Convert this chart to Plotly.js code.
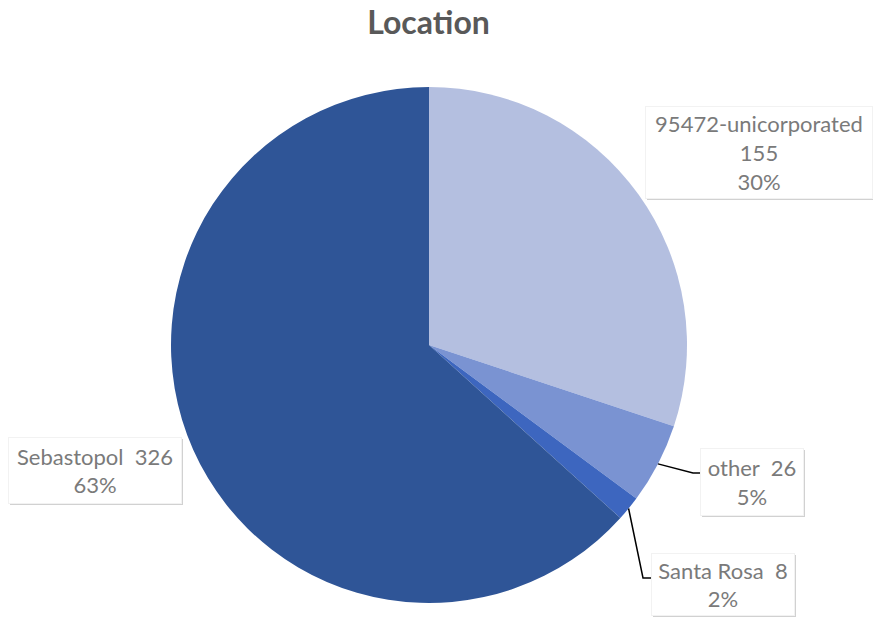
<!DOCTYPE html>
<html>
<head>
<meta charset="utf-8">
<script src="https://cdn.plot.ly/plotly-3.0.1.min.js"></script>
<style>
  html, body { margin: 0; padding: 0; background: #fff; }
  #chart { width: 873px; height: 620px; }
</style>
</head>
<body>
<div id="chart"></div>
<script>
const categories = ["95472-unicorporated", "other", "Santa Rosa", "Sebastopol"];
const counts = [155, 26, 8, 326];
const percentLabels = ["30%", "5%", "2%", "63%"];
const sliceColors = ["#b4bfe0", "#7a93d2", "#3d66bf", "#2f5597"];

const W = 873, H = 620;
const cx = 429, cy = 345, R = 258;

// pixel -> paper
const px = (x) => x / W;
const py = (y) => 1 - y / H;

const total = counts.reduce((a, b) => a + b, 0);

// mid angle of each slice (deg, clockwise from 12 o'clock) -> point on rim
function rimPoint(i) {
  let start = 0;
  for (let k = 0; k < i; k++) start += counts[k] / total * 360;
  const mid = (start + counts[i] / total * 180) * Math.PI / 180;
  return [cx + R * Math.sin(mid), cy - R * Math.cos(mid)];
}

// label boxes: [left, top, right, bottom] in px
const boxes = [
  [645, 106, 871, 197],
  [700, 448, 802, 514],
  [651, 553, 793, 614],
  [8, 437, 180, 502],
];
const labelText = [
  categories[0] + "<br>" + counts[0] + "<br>" + percentLabels[0],
  categories[1] + "  " + counts[1] + "<br>" + percentLabels[1],
  categories[2] + "  " + counts[2] + "<br>" + percentLabels[2],
  categories[3] + "  " + counts[3] + "<br>" + percentLabels[3],
];

const annotations = [];
const shapes = [];

boxes.forEach((b, i) => {
  const [l, t, r, bt] = b;
  // soft shadow
  shapes.push({
    type: "rect", xref: "paper", yref: "paper",
    x0: px(l + 2), x1: px(r + 3), y0: py(bt + 3), y1: py(t + 2),
    fillcolor: "rgba(0,0,0,0.18)", line: { width: 0 }, layer: "above",
  });
  annotations.push({
    xref: "paper", yref: "paper",
    x: px(l), y: py(t), xanchor: "left", yanchor: "top",
    width: r - l, height: bt - t,
    text: labelText[i], showarrow: false,
    align: "center", valign: "middle",
    bgcolor: "#ffffff", bordercolor: "#f2f2f2", borderwidth: 1, borderpad: 0,
    font: { family: "Lato, 'Open Sans', sans-serif", size: 22, color: "#7a7a7a" },
  });
});

// leader lines for the small slices
const p1 = rimPoint(1);
shapes.push({
  type: "path", xref: "paper", yref: "paper",
  path: `M ${px(p1[0])} ${py(p1[1])} L ${px(693)} ${py(473)} L ${px(702)} ${py(473)}`,
  line: { color: "#000", width: 1.5 },
});
const p2 = rimPoint(2);
shapes.push({
  type: "path", xref: "paper", yref: "paper",
  path: `M ${px(p2[0])} ${py(p2[1])} L ${px(643)} ${py(578)} L ${px(655)} ${py(578)}`,
  line: { color: "#000", width: 1.5 },
});

const trace = {
  type: "pie",
  labels: categories,
  values: counts,
  sort: false,
  direction: "clockwise",
  rotation: 0,
  textinfo: "none",
  hoverinfo: "label+value+percent",
  marker: { colors: sliceColors, line: { width: 0 } },
  domain: { x: [px(cx - R), px(cx + R)], y: [py(cy + R), py(cy - R)] },
  showlegend: false,
};

const layout = {
  width: W, height: H,
  margin: { l: 0, r: 0, t: 0, b: 0 },
  paper_bgcolor: "#ffffff",
  title: {
    text: "<b>Location</b>",
    x: 428.5 / W, xanchor: "center",
    y: 1 - 23 / H, yanchor: "middle", yref: "container",
    font: { family: "Lato, 'Open Sans', sans-serif", size: 32, color: "#595959" },
  },
  shapes: shapes,
  annotations: annotations,
};

Plotly.newPlot("chart", [trace], layout, { displayModeBar: false, staticPlot: true });
</script>
</body>
</html>
